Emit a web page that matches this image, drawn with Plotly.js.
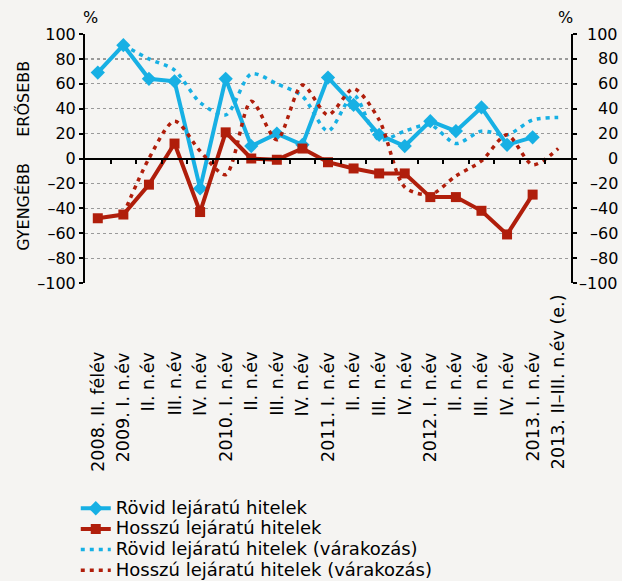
<!DOCTYPE html>
<html>
<head>
<meta charset="utf-8">
<script src="https://cdn.plot.ly/plotly-3.0.1.min.js"></script>
<style>
  html, body { margin: 0; padding: 0; background: #f5f4f2; }
  #chart { width: 622px; height: 581px; }
</style>
</head>
<body>
<div id="chart"></div>
<script>
// ---- Data ----
var tickLabels = [
  "2008. II. félév", "2009. I. n.év", "II. n.év", "III. n.év", "IV. n.év",
  "2010. I. n.év", "II. n.év", "III. n.év", "IV. n.év",
  "2011. I. n.év", "II. n.év", "III. n.év", "IV. n.év",
  "2012. I. n.év", "II. n.év", "III. n.év", "IV. n.év",
  "2013. I. n.év", "2013. II–III. n.év (e.)"
];
var rovid = [69, 91, 64, 62, -24, 64, 10, 20, 11, 65, 43, 19, 10, 30, 22, 41, 11, 17, null];
var hosszu = [-48, -45, -21, 12, -43, 21, 0, -1, 8, -3, -8, -12, -12, -31, -31, -42, -61, -29, null];
var rovidVar = [null, 91, 80, 71, 45, 35, 68, 60, 50, 22, 51, 15, 22, 27, 12, 22, 19, 31, 33];
var hosszuVar = [null, -45, 0, 30, 6, -13, 46, 15, 59, 35, 56, 31, -23, -29, -14, -2, 19, -5, 8];
var seriesNames = [
  "Rövid lejáratú hitelek",
  "Hosszú lejáratú hitelek",
  "Rövid lejáratú hitelek (várakozás)",
  "Hosszú lejáratú hitelek (várakozás)"
];
var yTicks = [-100, -80, -60, -40, -20, 0, 20, 40, 60, 80, 100];
var yTickText = yTicks.map(function (v) { return v < 0 ? "\u2013" + Math.abs(v) : String(v); });

var xIdx = tickLabels.map(function (_, i) { return i; });
var BLUE = "#17b0e4";
var RED = "#b01e0b";
var FONT = "DejaVu Sans";
function legName(s) { return "<span style='font-size:18px'>" + s + "</span>"; }

var traces = [
  { x: xIdx, y: rovid, name: legName(seriesNames[0]), type: "scatter", mode: "lines+markers",
    line: { color: BLUE, width: 4 }, marker: { symbol: "diamond", size: 11, color: BLUE } },
  { x: xIdx, y: hosszu, name: legName(seriesNames[1]), type: "scatter", mode: "lines+markers",
    line: { color: RED, width: 4 }, marker: { symbol: "square", size: 10, color: RED } },
  { x: xIdx, y: rovidVar, name: legName(seriesNames[2]), type: "scatter", mode: "lines",
    line: { color: BLUE, width: 3.5, dash: "4px,5px", shape: "spline", smoothing: 0.8 } },
  { x: xIdx, y: hosszuVar, name: legName(seriesNames[3]), type: "scatter", mode: "lines",
    line: { color: RED, width: 3.5, dash: "4px,5px", shape: "spline", smoothing: 0.8 } },
  // invisible trace to activate the right-hand y axis
  { x: [0], y: [0], yaxis: "y2", type: "scatter", mode: "markers",
    marker: { opacity: 0 }, showlegend: false, hoverinfo: "skip" }
];

var txtFont = { family: FONT, size: 16, color: "#000" };
var xLabFont = { family: FONT, size: 17.5, color: "#000" };
var annotations = [];
tickLabels.forEach(function (t, i) {
  var last = i === tickLabels.length - 1;
  annotations.push({
    x: i, xref: "x", yref: "paper",
    y: last ? -0.038 : -0.269,
    yanchor: "top", xanchor: "center",
    text: t, textangle: -90, showarrow: false, font: xLabFont
  });
});
// right-hand axis labels, right-aligned as in the reference
yTicks.forEach(function (v, i) {
  annotations.push({
    x: 1, xref: "paper", y: v, yref: "y", xanchor: "right", yanchor: "middle",
    xshift: 49, text: yTickText[i], showarrow: false, font: txtFont
  });
});
annotations.push(
  { text: "%", xref: "paper", yref: "paper", x: 0.0123, y: 1.066, xanchor: "center", yanchor: "middle",
    showarrow: false, font: txtFont },
  { text: "%", xref: "paper", yref: "paper", x: 0.9877, y: 1.066, xanchor: "center", yanchor: "middle",
    showarrow: false, font: txtFont },
  { text: "ERŐSEBB", xref: "paper", yref: "paper", x: -0.128, y: 0.739, textangle: -90,
    xanchor: "center", yanchor: "middle", showarrow: false, font: txtFont },
  { text: "GYENGÉBB", xref: "paper", yref: "paper", x: -0.128, y: 0.305, textangle: -90,
    xanchor: "center", yanchor: "middle", showarrow: false, font: txtFont }
);

var yaxisCommon = {
  range: [-100, 100], tickvals: yTicks, ticktext: yTickText,
  ticks: "outside", ticklen: 4, tickwidth: 2, tickcolor: "#000",
  showline: true, linecolor: "#000", linewidth: 2,
  zeroline: false, fixedrange: true,
  tickfont: txtFont
};

var layout = {
  width: 622, height: 581,
  paper_bgcolor: "#f5f4f2", plot_bgcolor: "#f5f4f2",
  margin: { l: 85, r: 51, t: 34, b: 298, autoexpand: false },
  showlegend: true,
  legend: {
    x: -0.019, xanchor: "left", y: -0.843, yanchor: "top",
    bgcolor: "rgba(0,0,0,0)", font: { family: FONT, size: 13.6, color: "#000" },
    tracegroupgap: 0, itemwidth: 30
  },
  xaxis: {
    range: [-0.5, 18.5], anchor: "free", position: 0.5,
    showline: true, linecolor: "#000", linewidth: 2.5,
    ticks: "outside", ticklen: 4, tickwidth: 2, tickcolor: "#000",
    tickvals: xIdx.slice(0, -1).map(function (i) { return i + 0.5; }),
    showticklabels: false, showgrid: false, zeroline: false
  },
  yaxis: Object.assign({}, yaxisCommon, {
    side: "left", showgrid: true, gridcolor: "#9a9a9a", gridwidth: 1.2, griddash: "dot"
  }),
  yaxis2: Object.assign({}, yaxisCommon, {
    side: "right", overlaying: "y", showgrid: false, showticklabels: false
  }),
  annotations: annotations
};

Plotly.newPlot("chart", traces, layout, { displayModeBar: false, staticPlot: true });
</script>
</body>
</html>
